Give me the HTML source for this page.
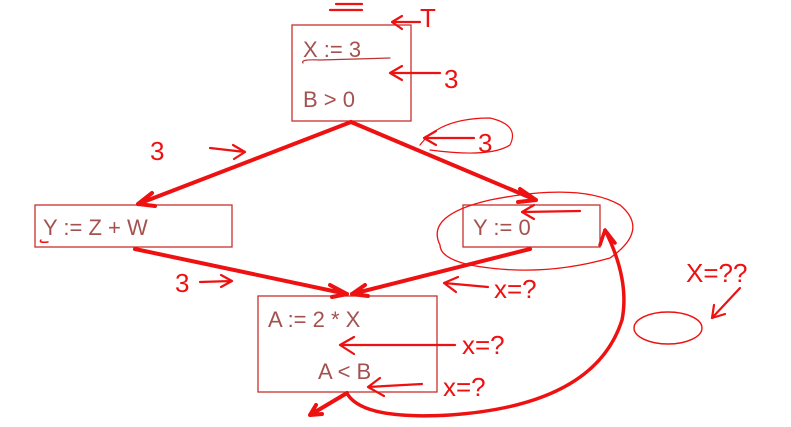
<!DOCTYPE html>
<html><head><meta charset="utf-8"><style>
html,body{margin:0;padding:0;background:#fff;width:791px;height:427px;overflow:hidden}
svg{display:block}
.box{fill:none;stroke:#c8302c;stroke-width:1.3}
.code{font-family:"Liberation Sans",sans-serif;font-size:22px;fill:#a4524f}
.ink{fill:none;stroke:#ee1111;stroke-width:4;stroke-linecap:round;stroke-linejoin:round}
.pen{fill:none;stroke:#ee1111;stroke-width:2.2;stroke-linecap:round;stroke-linejoin:round}
.hand{font-family:"Liberation Sans",sans-serif;font-size:26px;fill:#ee1111}
</style></head><body>
<svg width="791" height="427" viewBox="0 0 791 427">
<g>
<rect class="box" x="292" y="25" width="119" height="96"/>
<text class="code" x="303" y="57">X := 3</text>
<text class="code" x="303" y="107">B &gt; 0</text>
<path class="pen" d="M303 63 Q300 59 320 60 L390 58" style="stroke-width:1.2;stroke:#b33"/>
</g>
<g>
<rect class="box" x="35" y="205" width="197" height="42"/>
<text class="code" x="43" y="235">Y := Z + W</text>
<path class="pen" d="M41 240 Q38 243 48 242" style="stroke-width:1.5"/>
</g>
<g>
<rect class="box" x="463" y="205" width="137" height="42"/>
<text class="code" x="473" y="235">Y := 0</text>
</g>
<g>
<rect class="box" x="258" y="296" width="179" height="96"/>
<text class="code" x="268" y="327">A := 2 * X</text>
<text class="code" x="318" y="379">A &lt; B</text>
</g>
<g>
<path class="ink" d="M351 122 L138 204 M138 204 L152 193 M138 204 L155 206"/>
<path class="ink" d="M351 122 L536 200 M536 200 L520 189 M536 200 L518 202"/>
<path class="ink" d="M135 249 L347 294 M347 294 L330 285 M347 294 L332 297"/>
<path class="ink" d="M530 249 L352 294 M352 294 L365 285 M352 294 L368 296"/>
<path class="ink" d="M347 393 L310 415 M310 415 L316 405 M310 415 L322 414"/>
<path class="pen" style="stroke-width:3.5" d="M348 395 Q365 420 450 415 Q595 405 622 320 Q630 280 605 230 M605 230 L600 245 M605 230 L615 243"/>
</g>
<g>
<path class="pen" d="M336 4 L362 4 M330 10 L362 10"/>
<path class="pen" d="M392 22 L420 22 M392 22 L402 16 M392 22 L402 29"/>
<text class="hand" x="420" y="27" font-size="22">T</text>
<path class="pen" d="M390 73 L440 73 M390 73 L402 66 M390 73 L402 80"/>
<text class="hand" x="444" y="88">3</text>
<path class="pen" d="M424 138 L474 138 M424 138 L436 131 M424 138 L436 145"/>
<text class="hand" x="478" y="152">3</text>
<path class="pen" style="stroke-width:1.2" d="M420 145 Q440 118 490 118 Q520 125 510 145 Q490 158 430 150"/>
<text class="hand" x="150" y="160">3</text>
<path class="pen" d="M210 148 L245 152 M245 152 L233 145 M245 152 L234 159"/>
<text class="hand" x="175" y="292">3</text>
<path class="pen" d="M200 282 L232 281 M232 281 L221 275 M232 281 L221 287"/>
<path class="pen" d="M522 212 L580 211 M522 212 L534 205 M522 212 L534 219"/>
<path class="pen" style="stroke-width:1.3" d="M440 245 Q425 215 490 200 Q580 182 620 205 Q650 230 610 258 Q540 278 470 265 Q440 258 440 245"/>
<path class="pen" d="M444 283 L488 287 M444 283 L458 277 M444 283 L456 292"/>
<text class="hand" x="494" y="298">x=?</text>
<path class="pen" d="M340 345 L455 345 M340 345 L354 337 M340 345 L354 354"/>
<text class="hand" x="462" y="354">x=?</text>
<path class="pen" d="M368 387 L422 384 M368 387 L380 378 M368 387 L384 396"/>
<text class="hand" x="443" y="396">x=?</text>
<text class="hand" x="686" y="282">X=??</text>
<path class="pen" d="M740 288 L712 318 M712 318 L714 305 M712 318 L725 314"/>
<ellipse class="pen" cx="668" cy="328" rx="34" ry="16" style="stroke-width:1.4"/>
</g>
</svg>
</body></html>
